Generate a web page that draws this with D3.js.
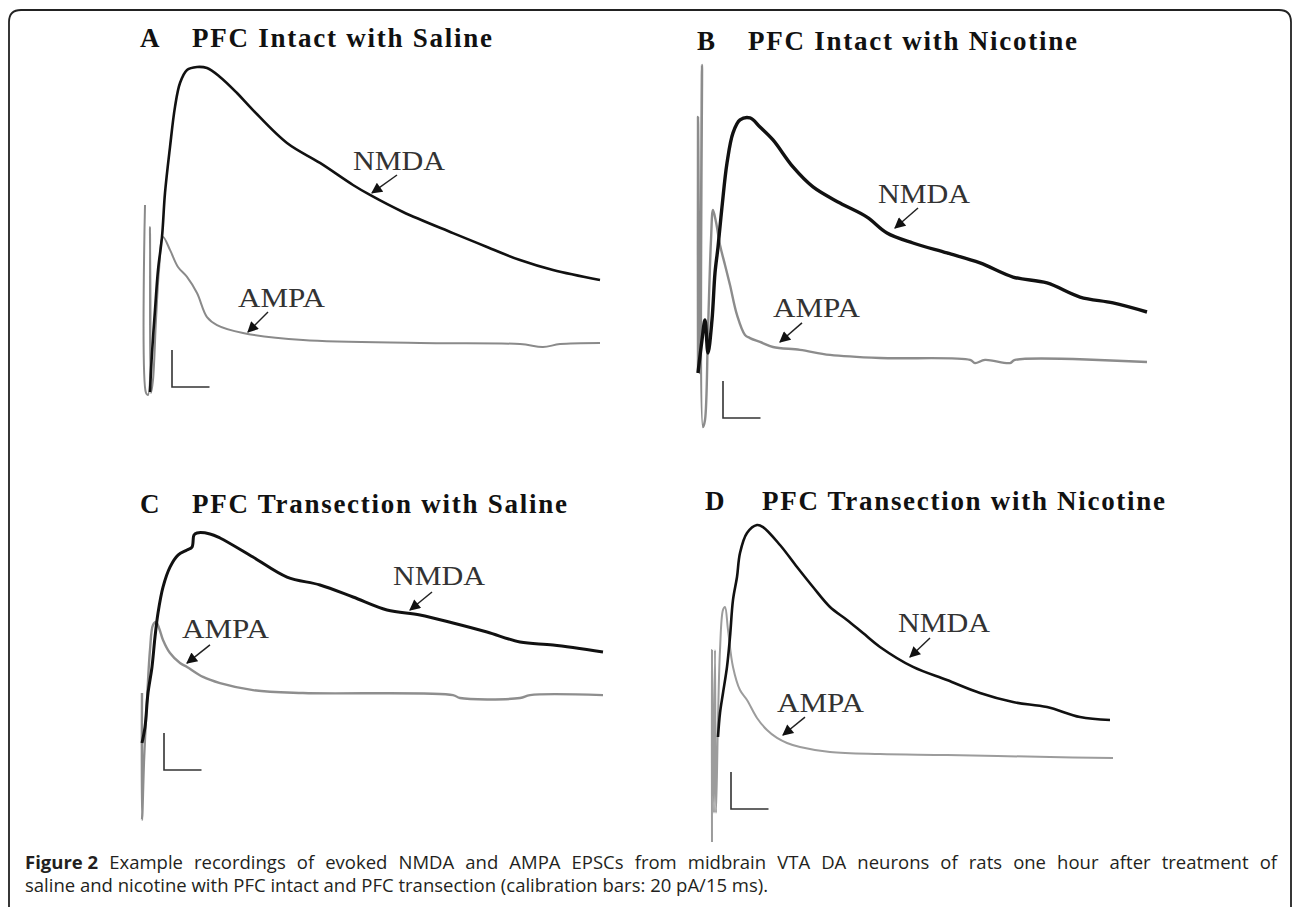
<!DOCTYPE html>
<html>
<head>
<meta charset="utf-8">
<script src="https://cdn.jsdelivr.net/npm/d3@7"></script>
<style>
  html, body { margin: 0; padding: 0; background: #fff; }
  svg { display: block; }
</style>
</head>
<body>
<svg id="fig" width="1293" height="907"></svg>
<script>
// ---- data: traces, time in ms, current in pA (relative to calibration bar base) ----
const panelLetters = ["A", "B", "C", "D"];
const panelTitles = [
  "PFC Intact with Saline",
  "PFC Intact with Nicotine",
  "PFC Transection with Saline",
  "PFC Transection with Nicotine"
];

const nmdaA = [[0.8,-2.7],[1.6,18.4],[2.8,41.6],[4.0,63.2],[5.6,81.1],[6.8,104.9],[8.8,129.7],[10.8,151.4],
  [12.8,164.3],[15.6,171.4],[19.6,173.0],[23.6,172.4],[28.8,167.6],[35.6,158.9],[42.0,149.7],[55.6,131.9],
  [68.8,121.1],[82.0,109.2],[88.8,103.8],[102.0,94.6],[122.0,83.2],[135.6,75.7],[148.8,68.6],[162.0,63.2],[180.8,57.8]];
const ampaA = [[-1.2,98.4],[-0.8,-3.2],[0,-4.3],[0.8,86.5],[1.2,-3.2],[2.0,3.8],[3.2,36.2],[4.4,63.2],[6.0,81.1],
  [8.8,74.1],[12.0,64.9],[15.6,59.5],[19.6,50.8],[23.6,37.8],[27.6,33.5],[38.0,29.2],[62.0,25.4],[108.8,23.8],
  [148.8,23.2],[158.0,21.6],[164.8,23.2],[180.8,23.8]];

const nmdaB = [[-1.6,24.3],[0,42.2],[1.2,53.0],[2.4,35.1],[4.0,53.0],[5.2,78.4],[6.4,92.4],[8.0,114.1],[10.0,137.8],
  [12.4,154.1],[15.2,161.1],[19.2,162.2],[23.2,157.3],[28.4,150.3],[36.4,135.7],[44.4,124.9],[55.2,116.2],
  [66.0,108.6],[74.0,100.0],[84.4,94.6],[98.0,89.2],[111.2,83.8],[124.4,76.2],[138.0,73.0],[151.2,65.4],
  [164.4,62.2],[178.0,57.3]];
const ampaB = [[-1.6,24.3],[-1.6,162.7],[-0.8,24.3],[0,190.8],[0.4,-4.9],[1.2,-1.1],[2.4,47.6],[3.6,96.2],[4.4,112.4],
  [5.6,105.9],[7.2,93.5],[9.2,82.7],[11.2,71.9],[14.0,55.7],[17.2,44.9],[19.2,43.2],[23.2,41.1],[28.4,38.4],
  [39.2,36.8],[51.2,34.1],[71.2,32.4],[107.2,31.4],[109.2,29.7],[113.2,31.4],[123.2,29.7],[125.2,31.4],[178.0,30.3]];

const nmdaC = [[0,14.6],[1.2,23.2],[2.4,41.6],[4.0,55.7],[5.2,71.9],[6.4,84.9],[8.4,98.9],[11.2,109.7],[14.4,116.2],
  [18.0,118.9],[20.0,120.5],[20.8,127.0],[22.0,128.1],[27.2,127.6],[31.2,125.4],[44.4,115.1],[58.0,104.3],
  [71.2,100.0],[84.4,93.5],[98.0,86.5],[111.2,83.8],[124.4,79.5],[138.0,74.6],[151.2,69.2],[164.4,67.6],[184.4,63.8]];
const ampaC = [[0,41.6],[0,-27.0],[0.8,5.4],[2.0,37.8],[3.2,64.9],[4.4,78.4],[5.6,80.0],[6.8,76.8],[8.4,70.3],
  [11.2,63.2],[15.2,57.8],[18.0,55.7],[24.4,50.3],[31.2,47.0],[44.4,43.2],[64.4,41.6],[124.4,40.5],[127.2,38.9],
  [151.2,38.9],[155.2,40.5],[184.4,40.5]];

const nmdaD = [[2.4,38.9],[3.2,51.9],[4.4,62.7],[6.0,76.8],[7.2,93.0],[8.4,113.0],[10.0,125.4],[11.2,138.4],
  [14.0,149.2],[18.0,153.5],[20.4,152.4],[27.2,142.7],[34.0,130.8],[40.4,120.0],[47.2,109.2],[54.0,102.2],
  [60.4,95.1],[67.2,87.6],[80.4,76.8],[94.0,69.7],[107.2,62.7],[120.4,57.8],[134.0,55.1],[147.2,49.7],[159.2,48.1]];
const ampaD = [[0,-17.8],[0,85.9],[0.8,-2.2],[1.2,85.9],[1.6,-2.2],[2.4,48.1],[3.2,85.9],[4.4,107.6],[5.2,109.2],
  [6.4,96.8],[8.4,76.8],[11.2,64.3],[14.0,58.9],[18.0,49.2],[22.0,42.7],[26.0,38.4],[30.0,35.7],[35.2,33.5],
  [47.2,30.8],[67.2,29.7],[94.0,29.2],[135.2,28.1],[160.4,27.6]];

// calibration bars: 20 pA / 15 ms, corner time (ms) per panel
const calibration = { pA: 20, ms: 15 };
const calibCorner = [9.6, 8.4, 8.8, 7.6];

// label anchors [t, I] and arrows [t0, I0, t1, I1] per panel
const nmdaLabel = [[82.0,117.3],[70.4,116.2],[100.4,100.0],[74.4,95.7]];
const nmdaArrow = [[99.6,114.6,89.6,104.9],[86.4,113.5,77.2,102.7],[116.0,96.2,107.2,86.5],[87.2,92.4,79.2,82.2]];
const ampaLabel = [[36.0,43.2],[28.4,54.6],[16.0,71.4],[26.0,52.4]];
const ampaArrow = [[48.0,40.5,40.0,29.7],[40.0,51.4,31.2,41.1],[27.2,67.6,18.0,57.8],[37.2,49.7,28.4,40.0]];

const captionBold = "Figure 2";
const captionLine1 = "Example recordings of evoked NMDA and AMPA EPSCs from midbrain VTA DA neurons of rats one hour after treatment of";
const captionLine2 = "saline and nicotine with PFC intact and PFC transection (calibration bars: 20 pA/15 ms).";

// ---- layout ----
const pxPerMs = 2.5, pxPerPa = 1.85;
const panels = [
  { ox: 148, oy: 387, letterX: 140, titleX: 192, titleY: 47,  titleW: 300, nmdaW: 2.6, ampaW: 2.0, gray: "#8a8a8a" },
  { ox: 702, oy: 418, letterX: 697, titleX: 748, titleY: 50,  titleW: 329, nmdaW: 3.4, ampaW: 2.4, gray: "#8c8c8c" },
  { ox: 142, oy: 770, letterX: 140, titleX: 192, titleY: 513, titleW: 375, nmdaW: 3.0, ampaW: 2.4, gray: "#8e8e8e" },
  { ox: 712, oy: 809, letterX: 705, titleX: 762, titleY: 510, titleW: 403, nmdaW: 2.6, ampaW: 2.0, gray: "#9c9c9c" }
];
const nmdaData = [nmdaA, nmdaB, nmdaC, nmdaD];
const ampaData = [ampaA, ampaB, ampaC, ampaD];

const svg = d3.select("#fig");

svg.append("defs").append("marker")
    .attr("id", "arrow")
    .attr("viewBox", "0 0 10 10")
    .attr("refX", 9).attr("refY", 5)
    .attr("markerUnits", "userSpaceOnUse")
    .attr("markerWidth", 13).attr("markerHeight", 11)
    .attr("orient", "auto")
  .append("path")
    .attr("d", "M0,0 L10,5 L0,10 z")
    .attr("fill", "#111");

// outer frame, open at the bottom
svg.append("path")
    .attr("d", "M9,930 L9,22 Q9,10 21,10 L1279,10 Q1291,10 1291,22 L1291,930")
    .attr("fill", "none")
    .attr("stroke", "#222")
    .attr("stroke-width", 1.8);

panels.forEach((p, i) => {
  const x = d3.scaleLinear().domain([0, 100]).range([p.ox, p.ox + 100 * pxPerMs]);
  const y = d3.scaleLinear().domain([0, 100]).range([p.oy, p.oy - 100 * pxPerPa]);
  const line = d3.line()
      .x(d => x(d[0])).y(d => y(d[1]))
      .curve(d3.curveCatmullRom.alpha(0.5));
  const g = svg.append("g");

  // title
  g.append("text")
      .attr("x", p.letterX).attr("y", p.titleY)
      .style("font-family", "'Liberation Serif', serif")
      .style("font-weight", "bold").style("font-size", "27px")
      .attr("fill", "#111")
      .text(panelLetters[i]);
  g.append("text")
      .attr("x", p.titleX).attr("y", p.titleY)
      .attr("textLength", p.titleW).attr("lengthAdjust", "spacing")
      .style("font-family", "'Liberation Serif', serif")
      .style("font-weight", "bold").style("font-size", "27px")
      .attr("fill", "#111")
      .text(panelTitles[i]);

  // traces
  g.append("path")
      .datum(ampaData[i])
      .attr("d", line)
      .attr("fill", "none").attr("stroke", p.gray)
      .attr("stroke-width", p.ampaW).attr("stroke-linejoin", "round");
  g.append("path")
      .datum(nmdaData[i])
      .attr("d", line)
      .attr("fill", "none").attr("stroke", "#111")
      .attr("stroke-width", p.nmdaW).attr("stroke-linejoin", "round");

  // calibration bar
  const c = calibCorner[i];
  g.append("path")
      .attr("d", d3.line()([[x(c), y(calibration.pA)], [x(c), y(0)], [x(c + calibration.ms), y(0)]]))
      .attr("fill", "none").attr("stroke", "#333").attr("stroke-width", 1.6);

  // labels + arrows
  [[nmdaLabel[i], nmdaArrow[i], "NMDA", 92], [ampaLabel[i], ampaArrow[i], "AMPA", 87]].forEach(([lab, arr, txt, w]) => {
    g.append("text")
        .attr("x", x(lab[0])).attr("y", y(lab[1]))
        .attr("textLength", w).attr("lengthAdjust", "spacingAndGlyphs")
        .style("font-family", "'Liberation Serif', serif").style("font-size", "27px")
        .attr("fill", "#333")
        .text(txt);
    g.append("line")
        .attr("x1", x(arr[0])).attr("y1", y(arr[1]))
        .attr("x2", x(arr[2])).attr("y2", y(arr[3]))
        .attr("stroke", "#222").attr("stroke-width", 1.5)
        .attr("marker-end", "url(#arrow)");
  });
});

// caption: first line justified word by word, second line natural
const capX = 25, capRight = 1277, capY1 = 869, capY2 = 892;
const capStyle = sel => sel.style("font-family", "'Open Sans', sans-serif").style("font-size", "18.5px").attr("fill", "#231f20");

const words = [{ t: captionBold, bold: true }].concat(captionLine1.split(" ").map(t => ({ t, bold: false })));
const wordNodes = words.map(w => svg.append("text")
    .attr("y", capY1)
    .call(capStyle)
    .style("font-weight", w.bold ? "bold" : "normal")
    .text(w.t));
const widths = wordNodes.map(n => n.node().getComputedTextLength());
const gap = (capRight - capX - d3.sum(widths)) / (words.length - 1);
let cx = capX;
wordNodes.forEach((n, k) => { n.attr("x", cx); cx += widths[k] + gap; });

svg.append("text")
    .attr("x", capX).attr("y", capY2)
    .call(capStyle)
    .text(captionLine2);
</script>
</body>
</html>
